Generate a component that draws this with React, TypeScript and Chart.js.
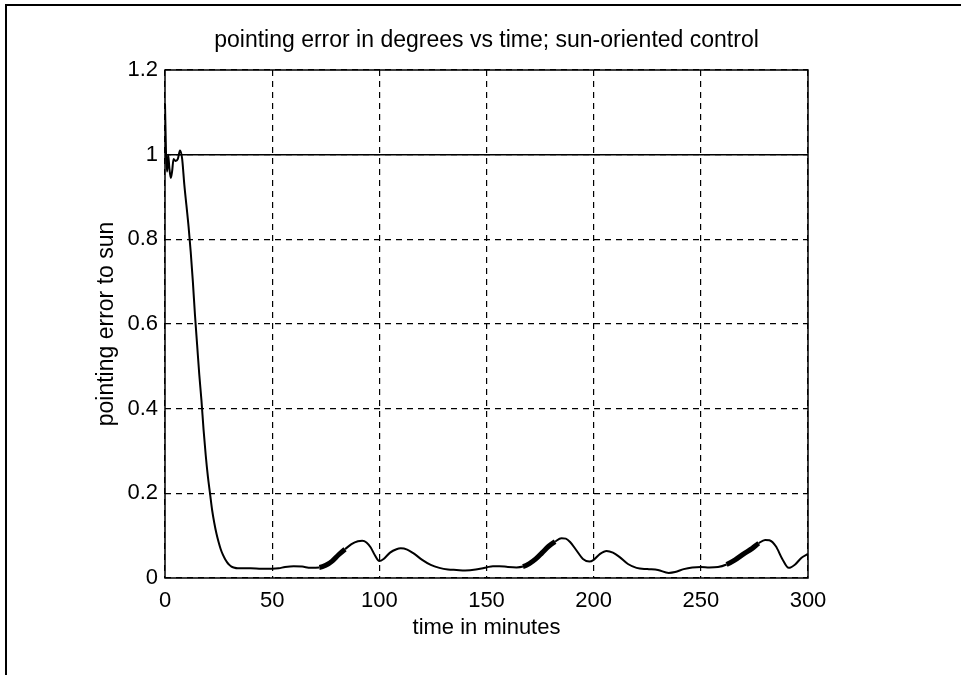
import React, { useEffect, useRef } from "react";
import { Chart, registerables } from "chart.js";

Chart.register(...registerables);

const titleText = "pointing error in degrees vs time; sun-oriented control";
const xTitle = "time in minutes";
const yTitle = "pointing error to sun";

const xTicks = [0, 50, 100, 150, 200, 250, 300];
const yTicks = [0, 0.2, 0.4, 0.6, 0.8, 1, 1.2];
const yTickLabels = ["0", "0.2", "0.4", "0.6", "0.8", "1", "1.2"];

const timeMin = [
  0, 0.5, 1, 1.5, 2, 2.7, 3.3, 4, 5, 6, 7, 8, 9, 10, 11, 12, 13, 14, 15, 16, 17, 18, 19, 20,
  21, 22, 23, 24, 25, 26, 27, 28, 29, 30, 31, 32, 34, 36, 40, 45, 50, 53, 56, 60, 64, 68, 72,
  75, 78, 81, 84, 87, 90, 92, 94, 96, 98, 100, 102, 105, 108, 110, 113, 116, 120, 124, 128,
  132, 136, 140, 145, 150, 153, 156, 160, 164, 167, 170, 173, 176, 179, 182, 185, 187, 189,
  192, 195, 198, 200, 203, 206, 209, 212, 216, 220, 225, 230, 235, 238, 242, 246, 250, 254,
  258, 262, 266, 270, 274, 277, 280, 282, 285, 288, 291, 294, 297, 300,
];
const errorDeg = [
  1.12, 1.0, 0.96, 1.0, 0.97, 0.945, 0.96, 0.99, 0.985, 0.99, 1.01, 0.99, 0.93, 0.88, 0.83,
  0.77, 0.7, 0.62, 0.55, 0.48, 0.42, 0.35, 0.29, 0.24, 0.2, 0.16, 0.13, 0.105, 0.085, 0.068,
  0.055, 0.045, 0.037, 0.031, 0.027, 0.025, 0.023, 0.023, 0.023, 0.022, 0.022, 0.023, 0.026,
  0.028, 0.027, 0.024, 0.025, 0.03, 0.04, 0.055, 0.068, 0.08, 0.087, 0.088, 0.084, 0.072,
  0.053, 0.04, 0.045, 0.06, 0.068, 0.07, 0.067, 0.058, 0.043, 0.031, 0.024, 0.02, 0.019,
  0.018, 0.02, 0.025, 0.028, 0.028, 0.026, 0.025, 0.027, 0.034, 0.045, 0.06, 0.075, 0.086,
  0.094, 0.093, 0.085, 0.065, 0.045, 0.039, 0.043, 0.057, 0.064, 0.06, 0.05, 0.033, 0.024,
  0.021, 0.019, 0.012, 0.014, 0.021, 0.025, 0.026, 0.025, 0.026, 0.032, 0.043, 0.057, 0.07,
  0.082, 0.09, 0.089, 0.075, 0.045, 0.024, 0.032, 0.048, 0.057,
];
const thresholdX = [0, 300];
const thresholdY = [1, 1];
const bandStart = [72, 166, 262];
const bandEnd = [83, 180, 276];

const FONT = '"Liberation Sans", Arial, sans-serif';

export default function App() {
  const ref = useRef<HTMLCanvasElement | null>(null);
  useEffect(() => {
    if (!ref.current) return;
    const decor = {
      id: "decor",
      beforeDraw(chart: any) {
        const c = chart.ctx;
        c.save();
        c.fillStyle = "#fff";
        c.fillRect(0, 0, chart.width, chart.height);
        c.fillStyle = "#000";
        c.fillRect(5, 4, 2, chart.height - 4);
        c.fillRect(5, 4, chart.width - 5, 2);
        c.restore();
      },
      afterDraw(chart: any) {
        const c = chart.ctx;
        const a = chart.chartArea;
        const xs = chart.scales.x;
        const ys = chart.scales.y;
        c.save();
        c.strokeStyle = "#000";
        c.lineWidth = 1.5;
        c.strokeRect(a.left, a.top, a.right - a.left, a.bottom - a.top);
        c.fillStyle = "#000";
        c.textAlign = "center";
        c.textBaseline = "middle";
        c.font = `23px ${FONT}`;
        c.fillText(titleText, (a.left + a.right) / 2, 41);
        c.font = `22px ${FONT}`;
        xTicks.forEach((v) => {
          c.fillText(String(v), xs.getPixelForValue(v), a.bottom + 23);
        });
        c.fillText(xTitle, (a.left + a.right) / 2, a.bottom + 50);
        c.textAlign = "right";
        yTicks.forEach((v, i) => {
          c.fillText(yTickLabels[i], a.left - 7, ys.getPixelForValue(v));
        });
        c.font = `23px ${FONT}`;
        c.translate(a.left - 58, (a.top + a.bottom) / 2);
        c.rotate(-Math.PI / 2);
        c.textAlign = "center";
        c.fillText(yTitle, 0, 0);
        c.restore();
      },
    };
    const inBand = (x: number) => bandStart.some((s, i) => x >= s && x < bandEnd[i]);
    const chart = new Chart(ref.current, {
      type: "line",
      data: {
        datasets: [
          {
            data: timeMin.map((t, i) => ({ x: t, y: errorDeg[i] })),
            borderColor: "#000",
            borderWidth: 2,
            pointRadius: 0,
            cubicInterpolationMode: "monotone",
            segment: {
              borderWidth: (ctx: any) => (inBand(ctx.p0.parsed.x) ? 5 : 2),
            },
          },
          {
            data: thresholdX.map((t, i) => ({ x: t, y: thresholdY[i] })),
            borderColor: "#000",
            borderWidth: 1.5,
            pointRadius: 0,
          },
        ],
      },
      options: {
        responsive: false,
        animation: false,
        events: [],
        layout: { padding: { left: 0, top: 70, right: 153, bottom: 0 } },
        plugins: { legend: { display: false }, tooltip: { enabled: false } },
        scales: {
          x: {
            type: "linear",
            min: 0,
            max: 300,
            afterFit: (s: any) => {
              s.height = 97;
            },
            ticks: { display: false, stepSize: 50 },
            afterBuildTicks: (s: any) => {
              s.ticks = xTicks.map((v) => ({ value: v }));
            },
            grid: { color: "#000", lineWidth: 1.2, drawTicks: false },
            border: { display: false, dash: [6, 5] },
          },
          y: {
            type: "linear",
            min: 0,
            max: 1.2,
            afterFit: (s: any) => {
              s.width = 165;
            },
            ticks: { display: false, stepSize: 0.2 },
            afterBuildTicks: (s: any) => {
              s.ticks = yTicks.map((v) => ({ value: v }));
            },
            grid: { color: "#000", lineWidth: 1.2, drawTicks: false },
            border: { display: false, dash: [6, 5] },
          },
        },
      },
      plugins: [decor],
    } as any);
    return () => chart.destroy();
  }, []);
  return (
    <div style={{ position: "absolute", left: 0, top: 0, width: 961, height: 675, background: "#fff" }}>
      <canvas ref={ref} width={961} height={675} style={{ display: "block", width: 961, height: 675 }} />
    </div>
  );
}
